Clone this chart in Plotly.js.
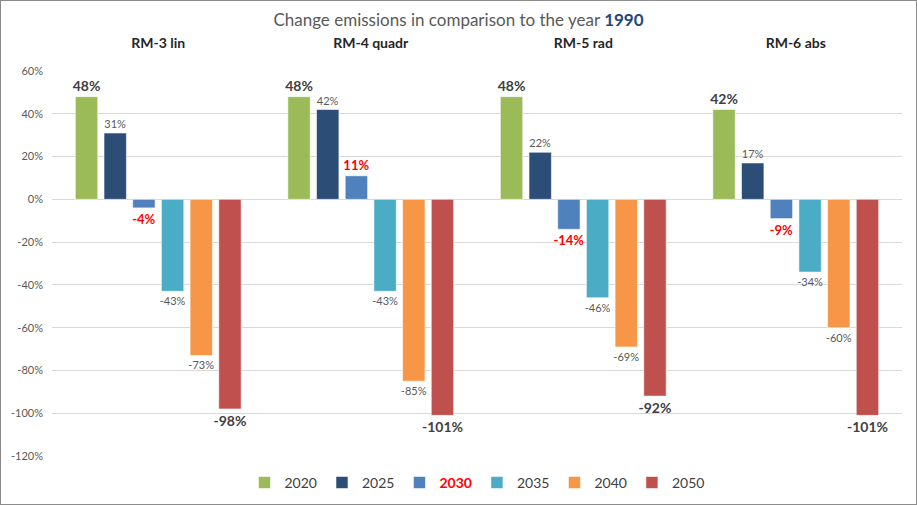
<!DOCTYPE html>
<html>
<head>
<meta charset="utf-8">
<script src="https://cdn.plot.ly/plotly-3.0.1.min.js"></script>
<style>
html,body{margin:0;padding:0;background:#fff;}
#chart{width:915px;height:503px;border:1px solid #8c8c8c;}
</style>
</head>
<body>
<div id="chart"></div>
<script>
const categories = ["RM-3 lin", "RM-4 quadr", "RM-5 rad", "RM-6 abs"];
const years = ["2020", "2025", "2030", "2035", "2040", "2050"];
const v2020 = [48, 48, 48, 42];
const v2025 = [31, 42, 22, 17];
const v2030 = [-4, 11, -14, -9];
const v2035 = [-43, -43, -46, -34];
const v2040 = [-73, -85, -69, -60];
const v2050 = [-98, -101, -92, -101];
const yTicks = [60, 40, 20, 0, -20, -40, -60, -80, -100, -120];

const seriesValues = [v2020, v2025, v2030, v2035, v2040, v2050];
const colors = ["#9BBB59", "#2C4D75", "#4F81BD", "#4BACC6", "#F79646", "#C0504D"];
const FONT = "Lato, 'Open Sans', sans-serif";
const bigLabel = {size: 14, color: "#404040", weight: "bold", family: FONT};
const smallLabel = {size: 11, color: "#595959", family: FONT};
const redLabel = {size: 13, color: "#FF0000", weight: "bold", family: FONT};
const labelFonts = [bigLabel, smallLabel, redLabel, smallLabel, smallLabel, bigLabel];

const traces = years.map((yr, i) => ({
  type: "bar",
  name: yr === "2030" ? '<span style="color:#FF0000;font-weight:bold">2030</span>' : yr,
  x: categories,
  y: seriesValues[i],
  marker: {color: colors[i], line: {color: "rgba(255,255,255,0.55)", width: 1}},
  text: seriesValues[i].map(v => v + "%"),
  textposition: "outside",
  constraintext: "none",
  textfont: labelFonts[i],
  cliponaxis: false,
  hoverinfo: "name+y"
}));

const layout = {
  width: 915, height: 503,
  margin: {l: 51, r: 14, t: 70, b: 48},
  paper_bgcolor: "#fff", plot_bgcolor: "#fff",
  font: {family: FONT, color: "#595959"},
  title: {
    text: 'Change emissions in comparison to the year <b><span style="color:#1F497D">1990</span></b>',
    font: {size: 17, color: "#595959", family: FONT},
    x: 0.5, xanchor: "center", y: 0.962, yanchor: "middle"
  },
  barmode: "group",
  bargap: 0.19,
  bargroupgap: 0.22,
  uniformtext: {mode: false},
  showlegend: true,
  legend: {
    orientation: "h", x: 0.5, xanchor: "center",
    yref: "container", y: 0.042, yanchor: "middle",
    font: {size: 14, color: "#404040", family: FONT},
    itemwidth: 30, traceorder: "normal"
  },
  xaxis: {
    side: "top",
    showgrid: false, zeroline: false, showline: false, ticks: "",
    tickfont: {size: 14, color: "#262626", weight: "bold", family: FONT},
    ticklabelstandoff: 19,
    fixedrange: true
  },
  yaxis: {
    range: [-120, 60],
    tickvals: yTicks,
    ticktext: yTicks.map(v => v + "%"),
    showgrid: true, gridcolor: "#D9D9D9", gridwidth: 1,
    zeroline: true, zerolinecolor: "#D9D9D9", zerolinewidth: 1,
    showline: false, ticks: "",
    tickfont: {size: 11, color: "#595959", family: FONT},
    ticklabelstandoff: 8,
    fixedrange: true
  }
};

Plotly.newPlot("chart", traces, layout, {displayModeBar: false, staticPlot: true});
</script>
</body>
</html>
